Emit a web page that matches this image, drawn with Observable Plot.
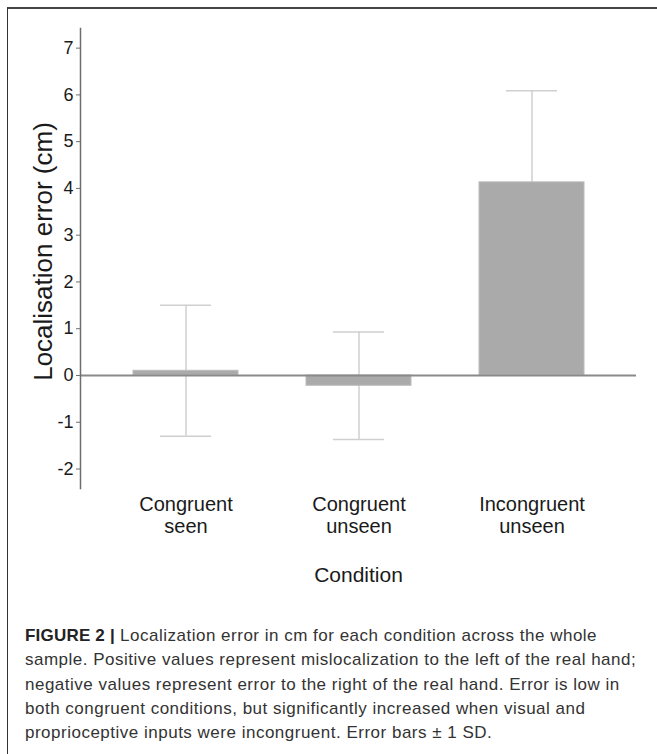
<!DOCTYPE html>
<html><head><meta charset="utf-8">
<script src="https://cdn.jsdelivr.net/npm/d3@7"></script>
<script src="https://cdn.jsdelivr.net/npm/@observablehq/plot@0.6"></script>
<style>
html,body{margin:0;padding:0;background:#fff;overflow:hidden;width:657px;height:754px}
#frame{position:absolute;left:7px;top:7px;width:700px;height:800px;border-top:2px solid #444;border-left:1.5px solid #333}
#chart{position:absolute;left:0;top:0}
#caption{position:absolute;left:25px;top:624px;font:17px/24.3px "Liberation Sans",Arial,sans-serif;letter-spacing:0.5px;color:#333;white-space:nowrap}
#caption b{color:#222;letter-spacing:0.2px}
</style></head><body>
<div id="frame"></div>
<div id="chart"></div>
<div id="caption"><b>FIGURE 2 |</b> Localization error in cm for each condition across the whole<br>sample. Positive values represent mislocalization to the left of the real hand;<br>negative values represent error to the right of the real hand. Error is low in<br>both congruent conditions, but significantly increased when visual and<br>proprioceptive inputs were incongruent. Error bars ± 1 SD.</div>
<script>
const conditions = ["Congruent\nseen", "Congruent\nunseen", "Incongruent\nunseen"];
const means = [0.1, -0.22, 4.13];
const sds = [1.4, 1.15, 1.96];
const yTicks = [-2, -1, 0, 1, 2, 3, 4, 5, 6, 7];
const yLabel = "Localisation error (cm)";
const xLabel = "Condition";

const data = conditions.map((c, i) => ({condition: c, mean: means[i], lo: means[i] - sds[i], hi: means[i] + sds[i]}));
const errStyle = {stroke: "#cfcfcf", strokeWidth: 1.5};

const plot = Plot.plot({
  width: 657, height: 620,
  marginLeft: 80, marginRight: 21, marginTop: 28, marginBottom: 132,
  style: {fontFamily: '"Liberation Sans", Arial, sans-serif', background: "transparent", color: "#1a1a1a"},
  x: {domain: conditions, range: [132, 584], paddingInner: 0.395, paddingOuter: 0},
  y: {domain: [-2.417, 7.42]},
  marks: [
    Plot.ruleX(data, {x: "condition", y1: "lo", y2: "hi", ...errStyle}),
    Plot.tickY(data, {x: "condition", y: "hi", insetLeft: 27, insetRight: 27, ...errStyle}),
    Plot.tickY(data, {x: "condition", y: "lo", insetLeft: 27, insetRight: 27, ...errStyle}),
    Plot.barY(data, {x: "condition", y: "mean", fill: "#aaaaaa", stroke: "#bcbcbc", strokeWidth: 1}),
    Plot.ruleY([0], {stroke: "#8a8a8a", strokeWidth: 2}),
    Plot.frame({anchor: "left", stroke: "#6e6e6e", strokeWidth: 1.5}),
    Plot.axisY({ticks: yTicks, tickSize: 4, tickPadding: 3, fontSize: 18, stroke: "#6e6e6e", label: null, tickFormat: d => String(d)}),
    Plot.axisX({tickSize: 0, tickPadding: 7, fontSize: 20, lineHeight: 1.1, label: null, style: {letterSpacing: "0.4px"}}),
    Plot.text([yLabel], {frameAnchor: "left", textAnchor: "middle", dx: -37, dy: -7, rotate: -90, fontSize: 26, style: {letterSpacing: "0.9px"}}),
    Plot.text([xLabel], {frameAnchor: "bottom", dy: 93, fontSize: 21, style: {letterSpacing: "0.2px"}})
  ]
});
document.getElementById("chart").appendChild(plot);
</script>
</body></html>
